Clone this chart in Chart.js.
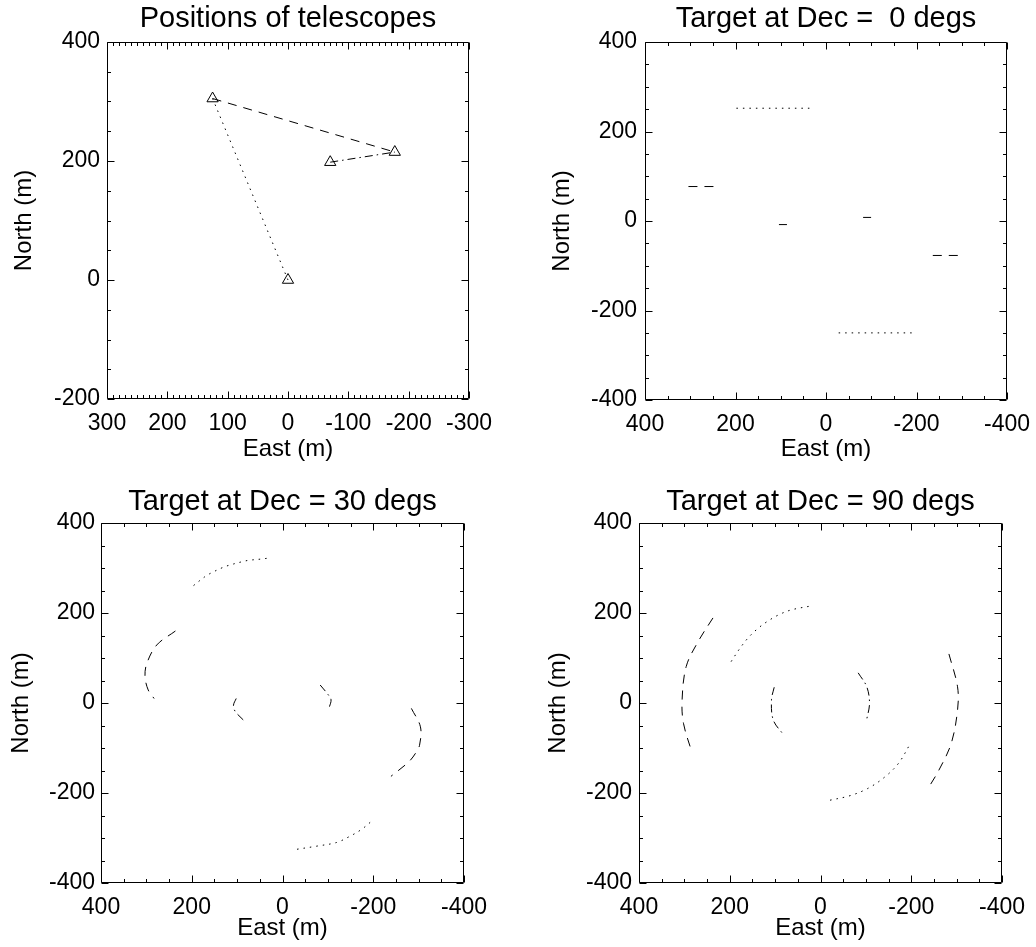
<!DOCTYPE html>
<html>
<head>
<meta charset="utf-8">
<script src="https://cdn.jsdelivr.net/npm/chart.js@4.4.1/dist/chart.umd.min.js"></script>
<style>
  html, body { margin: 0; padding: 0; background: #fff; }
  #wrap { position: relative; width: 1036px; height: 947px; overflow: hidden; background: #fff; }
  canvas { position: absolute; }
</style>
</head>
<body>
<div id="wrap">
  <canvas id="c1" width="518" height="470" style="left:0;top:0"></canvas>
  <canvas id="c2" width="518" height="470" style="left:518px;top:0"></canvas>
  <canvas id="c3" width="518" height="477" style="left:0;top:470px"></canvas>
  <canvas id="c4" width="518" height="477" style="left:518px;top:470px"></canvas>
</div>
<script>
// Telescope positions (m): East, North
const telescopeEast  = [0, 125, -70, -177];
const telescopeNorth = [0, 305, 198, 215];
// Baselines joining telescopes (index pairs): dotted, dashed, dash-dot
const baselineDotted  = [0, 1];
const baselineDashed  = [1, 3];
const baselineDashDot = [2, 3];

// Axis ranges
const posEastRange  = [-300, 300];
const posNorthRange = [-200, 400];
const uvRange       = [-400, 400];

// Target at Dec = 0: (u, v) tracks in metres
const dec0DotU_a = [198, 29];      const dec0DotV_a = [252, 252];
const dec0DotU_b = [-28, -198];    const dec0DotV_b = [-250, -250];
const dec0DashU_a = [304, 236];    const dec0DashV_a = [77, 77];
const dec0DashU_b = [-236, -304];  const dec0DashV_b = [-77, -77];
const dec0DDU_a = [104, 82];       const dec0DDV_a = [-8, -8];
const dec0DDU_b = [-82, -104];     const dec0DDV_b = [8, 8];

// Target at Dec = 30
const dec30DotU_a = [196, 172, 159, 132, 118, 89, 75, 46, 31];
const dec30DotV_a = [261, 280, 288, 301, 306, 314, 317, 320, 322];
const dec30DotU_b = [-32, -76, -119, -147, -174, -196];
const dec30DotV_b = [-325, -318, -310, -297, -281, -263];
const dec30DashU_a = [236, 277, 299, 303, 296, 283];
const dec30DashV_a = [160, 129, 88, 59, 29, 10];
const dec30DashU_b = [-284, -304, -302, -293, -278, -239];
const dec30DashV_b = [-12, -53, -94, -112, -131, -163];
const dec30DDU_a = [102, 108, 104, 82];
const dec30DDV_a = [10, -5, -19, -42];
const dec30DDU_b = [-83, -101, -107, -103];
const dec30DDV_b = [40, 18, 7, -10];

// Target at Dec = 90
const dec90DotU_a = [197, 180, 161, 141, 119, 92, 64, 19];
const dec90DotV_a = [92, 118, 143, 163, 180, 196, 207, 216];
const dec90DotU_b = [-21, -65, -104, -141, -172, -197];
const dec90DotV_b = [-216, -206, -190, -165, -134, -92];
const dec90DashU_a = [237, 270, 296, 305, 302, 283];
const dec90DashV_a = [189, 136, 81, 7, -45, -111];
const dec90DashU_b = [-283, -302, -302, -288, -261, -237];
const dec90DashV_b = [109, 36, -16, -90, -149, -190];
const dec90DDU_a = [102, 108, 104, 82];
const dec90DDV_a = [35, 7, -38, -70];
const dec90DDU_b = [-83, -102, -108, -102];
const dec90DDV_b = [67, 36, -1, -36];

// Line styles
const DOT = [1.5, 5];
const DASH = [9, 7];
const DASHDOT = [8, 4, 1.5, 4];

const FONT = '"Liberation Sans", Arial, Helvetica, sans-serif';
Chart.defaults.font.family = FONT;
Chart.defaults.color = '#000';

function track(u, v, dash, tension) {
  return {
    data: u.map((e, i) => ({ x: e, y: v[i] })),
    showLine: true, fill: false,
    borderColor: '#000', borderWidth: 1, borderDash: dash,
    pointRadius: 0, pointHoverRadius: 0,
    tension: tension === undefined ? 0.35 : tension
  };
}

function baseline(pair, dash) {
  return track(pair.map(i => telescopeEast[i]), pair.map(i => telescopeNorth[i]), dash, 0);
}

// Inward ticks on all four sides plus the plot frame
const frameTicks = {
  id: 'frameTicks',
  afterDraw(chart, args, o) {
    const { ctx, chartArea: a, scales: { x, y } } = chart;
    const L = Math.round(a.left) + 0.5, R = Math.round(a.right) - 0.5;
    const T = Math.round(a.top) + 0.5, B = Math.round(a.bottom) - 0.5;
    ctx.save();
    ctx.strokeStyle = '#000';
    ctx.lineWidth = 1;
    ctx.setLineDash([]);
    ctx.beginPath();
    ctx.rect(L, T, R - L, B - T);
    const isMajor = (v, m) => Math.abs(v / m - Math.round(v / m)) < 1e-6;
    for (let v = x.min; v <= x.max + 1e-9; v += o.xMinor) {
      const px = Math.round(x.getPixelForValue(v)) + 0.5;
      const len = isMajor(v, o.xMajor) ? o.major : o.minor;
      ctx.moveTo(px, B); ctx.lineTo(px, B - len);
      ctx.moveTo(px, T); ctx.lineTo(px, T + len);
    }
    for (let v = y.min; v <= y.max + 1e-9; v += o.yMinor) {
      const py = Math.round(y.getPixelForValue(v)) + 0.5;
      const len = isMajor(v, o.yMajor) ? o.major : o.minor;
      ctx.moveTo(L, py); ctx.lineTo(L + len, py);
      ctx.moveTo(R, py); ctx.lineTo(R - len, py);
    }
    ctx.stroke();
    ctx.restore();
  }
};

function makePanel(p) {
  const tickFont = { family: FONT, size: 23, lineHeight: 1 };
  const axisFont = { family: FONT, size: 24, lineHeight: 1 };
  return new Chart(document.getElementById(p.id), {
    type: 'scatter',
    data: { datasets: p.datasets },
    options: {
      responsive: false, animation: false, devicePixelRatio: 1,
      events: [],
      layout: { autoPadding: false, padding: { left: 0, top: 0, right: p.padRight, bottom: 0 } },
      plugins: {
        legend: { display: false },
        tooltip: { enabled: false },
        title: {
          display: true, text: p.title, fullSize: false, color: '#000',
          font: { family: FONT, size: 29, weight: 'normal', lineHeight: 1 },
          padding: p.titlePad
        },
        frameTicks: { xMinor: p.xMinor, xMajor: p.xStep, yMinor: p.yMinor, yMajor: p.yStep, major: 7, minor: 3.5 }
      },
      scales: {
        x: {
          type: 'linear', reverse: true, min: p.xRange[0], max: p.xRange[1],
          grid: { display: false, drawTicks: false },
          border: { display: false },
          ticks: { stepSize: p.xStep, autoSkip: false, maxRotation: 0, minRotation: 0,
                   font: tickFont, color: '#000', padding: p.xTickPad,
                   callback: v => String(v) },
          title: { display: true, text: 'East (m)', font: axisFont, color: '#000',
                   padding: { top: 0, bottom: p.xTitlePad } },
          afterFit(s) { s.height = p.xH; s.paddingLeft = 0; s.paddingRight = 0; }
        },
        y: {
          type: 'linear', min: p.yRange[0], max: p.yRange[1],
          grid: { display: false, drawTicks: false },
          border: { display: false },
          ticks: { stepSize: p.yStep, autoSkip: false, font: tickFont, color: '#000',
                   padding: p.yTickPad, callback: v => String(v) },
          title: { display: true, text: 'North (m)', font: axisFont, color: '#000',
                   padding: { top: p.yTitlePad, bottom: 0 } },
          afterFit(s) { s.width = p.yW; s.paddingTop = 0; s.paddingBottom = 0; }
        }
      }
    },
    plugins: [frameTicks]
  });
}

// Telescope markers
const telescopeMarkers = {
  data: telescopeEast.map((e, i) => ({ x: e, y: telescopeNorth[i] })),
  showLine: false,
  pointStyle: 'triangle', pointRadius: 6.5, pointBorderWidth: 1,
  pointBorderColor: '#000', pointBackgroundColor: 'rgba(0,0,0,0)'
};

makePanel({
  id: 'c1', title: 'Positions of telescopes', titlePad: { top: 4.5, bottom: 8.5 },
  xRange: posEastRange, yRange: posNorthRange, xStep: 100, xMinor: 10, yStep: 200, yMinor: 50,
  yW: 107, yTitlePad: 12, yTickPad: 7, xH: 71, xTickPad: 13.5, xTitlePad: 9, padRight: 49,
  datasets: [
    baseline(baselineDotted, DOT),
    baseline(baselineDashed, DASH),
    baseline(baselineDashDot, DASHDOT),
    telescopeMarkers
  ]
});

makePanel({
  id: 'c2', title: 'Target at Dec =  0 degs', titlePad: { top: 4.5, bottom: 8.5 },
  xRange: uvRange, yRange: uvRange, xStep: 200, xMinor: 50, yStep: 200, yMinor: 50,
  yW: 127, yTitlePad: 32, yTickPad: 8, xH: 70, xTickPad: 13, xTitlePad: 9, padRight: 29,
  datasets: [
    track(dec0DotU_a, dec0DotV_a, DOT, 0), track(dec0DotU_b, dec0DotV_b, DOT, 0),
    track(dec0DashU_a, dec0DashV_a, DASH, 0), track(dec0DashU_b, dec0DashV_b, DASH, 0),
    track(dec0DDU_a, dec0DDV_a, DASHDOT, 0), track(dec0DDU_b, dec0DDV_b, DASHDOT, 0)
  ]
});

makePanel({
  id: 'c3', title: 'Target at Dec = 30 degs', titlePad: { top: 17.5, bottom: 6.5 },
  xRange: uvRange, yRange: uvRange, xStep: 200, xMinor: 50, yStep: 200, yMinor: 50,
  yW: 101, yTitlePad: 9, yTickPad: 6, xH: 64, xTickPad: 13, xTitlePad: 7, padRight: 54,
  datasets: [
    track(dec30DotU_a, dec30DotV_a, DOT), track(dec30DotU_b, dec30DotV_b, DOT),
    track(dec30DashU_a, dec30DashV_a, DASH), track(dec30DashU_b, dec30DashV_b, DASH),
    track(dec30DDU_a, dec30DDV_a, DASHDOT), track(dec30DDU_b, dec30DDV_b, DASHDOT)
  ]
});

makePanel({
  id: 'c4', title: 'Target at Dec = 90 degs', titlePad: { top: 17.5, bottom: 6.5 },
  xRange: uvRange, yRange: uvRange, xStep: 200, xMinor: 50, yStep: 200, yMinor: 50,
  yW: 121, yTitlePad: 28, yTickPad: 7, xH: 64, xTickPad: 13, xTitlePad: 7, padRight: 34,
  datasets: [
    track(dec90DotU_a, dec90DotV_a, DOT), track(dec90DotU_b, dec90DotV_b, DOT),
    track(dec90DashU_a, dec90DashV_a, DASH), track(dec90DashU_b, dec90DashV_b, DASH),
    track(dec90DDU_a, dec90DDV_a, DASHDOT), track(dec90DDU_b, dec90DDV_b, DASHDOT)
  ]
});
</script>
</body>
</html>
